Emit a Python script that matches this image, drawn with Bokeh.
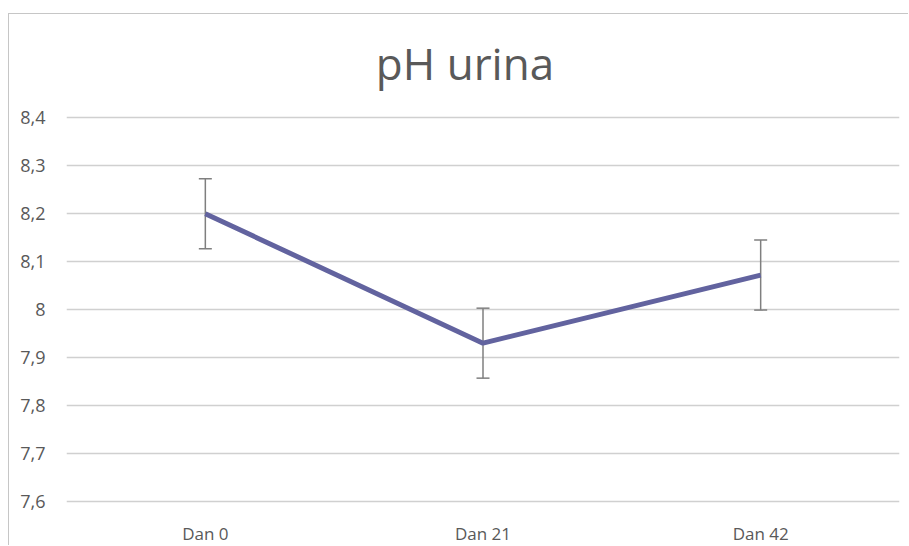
from bokeh.plotting import figure
from bokeh.models import FactorRange, Range1d, FixedTicker, CustomJSTickFormatter, Whisker, TeeHead, ColumnDataSource
from bokeh.core.properties import value
from bokeh.embed import file_html
from bokeh.resources import INLINE

title = "pH urina"
categories = ["Dan 0", "Dan 21", "Dan 42"]
means = [8.20, 7.93, 8.072]
errors = [0.073, 0.073, 0.073]
y_ticks = [7.6, 7.7, 7.8, 7.9, 8.0, 8.1, 8.2, 8.3, 8.4]

upper = [m + e for m, e in zip(means, errors)]
lower = [m - e for m, e in zip(means, errors)]
src = ColumnDataSource(dict(x=categories, y=means, upper=upper, lower=lower))
lab_src = ColumnDataSource(dict(x=categories, y=[y_ticks[0]] * len(categories), text=categories))
title_src = ColumnDataSource(dict(x=[categories[1]], y=[y_ticks[-1]], text=[title]))

# layout: frame spans full figure height; 477.5 px per unit, top gridline 103 px below top,
# bottom gridline 45 px above bottom
H = 532
ppu = 477.5
top_px, bottom_px = 103, 45
y_start = y_ticks[0] - (bottom_px) / ppu
y_end = y_ticks[-1] + (top_px) / ppu

p = figure(width=900, height=H, output_backend="svg", toolbar_location=None,
           x_range=FactorRange(*categories, range_padding=0),
           y_range=Range1d(y_start, y_end),
           min_border_left=57, min_border_right=10, min_border_top=0, min_border_bottom=0)
p.styles = {"border-top": "1px solid #c6c6c6", "border-left": "1px solid #c6c6c6",
            "margin-top": "13px", "margin-left": "8px"}
p.outline_line_color = None
p.background_fill_color = "white"
p.border_fill_color = "white"

p.text(x="x", y="y", text="text", source=title_src, x_offset=-18, y_offset=-55,
       text_align="center", text_baseline="alphabetic",
       text_font=value("Open Sans"), text_font_size="44px", text_color="#595959")

p.line("x", "y", source=src, line_color="#62639f", line_width=5)
w = Whisker(source=src, base="x", upper="upper", lower="lower",
            line_color="#7f7f7f", line_width=1.5,
            upper_head=TeeHead(size=13, line_color="#7f7f7f", line_width=1.5),
            lower_head=TeeHead(size=13, line_color="#7f7f7f", line_width=1.5))
p.add_layout(w)

p.text(x="x", y="y", text="text", source=lab_src, y_offset=32,
       text_align="center", text_baseline="middle",
       text_font=value("Open Sans"), text_font_size="17px", text_color="#595959")

p.yaxis.ticker = FixedTicker(ticks=y_ticks)
p.yaxis.formatter = CustomJSTickFormatter(code="""
    const v = Math.round(tick * 10) / 10;
    return v.toString().replace('.', ',');
""")
p.yaxis.axis_line_color = None
p.yaxis.major_tick_line_color = None
p.yaxis.minor_tick_line_color = None
p.yaxis.major_label_text_font = "Open Sans"
p.yaxis.major_label_text_color = "#595959"
p.yaxis.major_label_text_font_size = "18px"
p.yaxis.major_label_standoff = 15
p.xaxis.visible = False

p.xgrid.grid_line_color = None
p.ygrid.ticker = FixedTicker(ticks=y_ticks)
p.ygrid.grid_line_color = "#d0d0d0"
p.ygrid.grid_line_width = 1.3

open("out.html", "w").write(file_html(p, INLINE))
